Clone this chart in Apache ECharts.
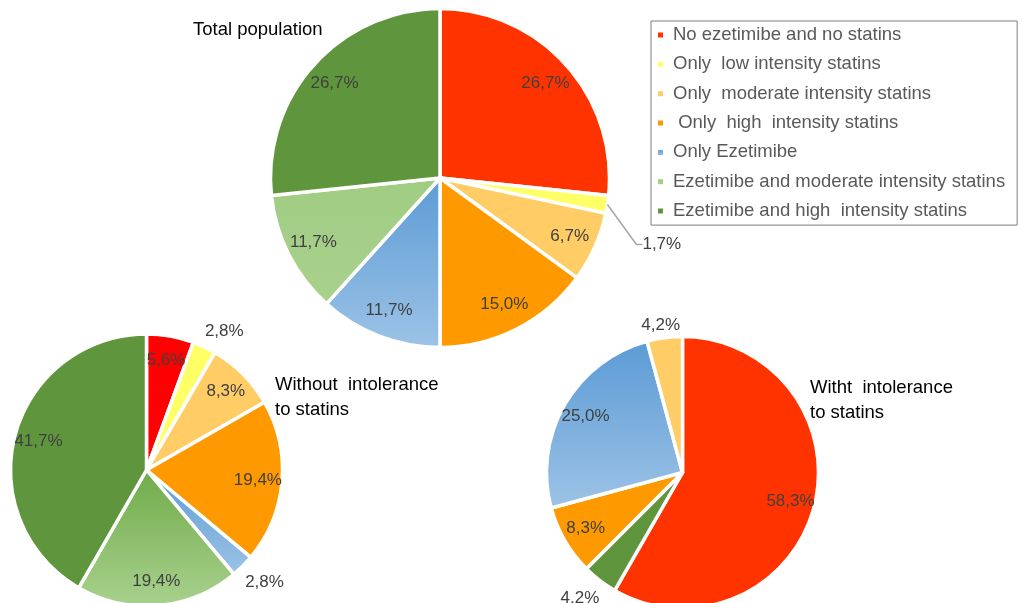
<!DOCTYPE html>
<html><head><meta charset="utf-8">
<script src="https://cdn.jsdelivr.net/npm/echarts@6/dist/echarts.min.js"></script>
<style>html,body{margin:0;padding:0;background:#fff}#c{width:1022px;height:603px}</style>
</head><body><div id="c"></div>
<script>
// ---- data ----
const categories = [
  'No ezetimibe and no statins',
  'Only  low intensity statins',
  'Only  moderate intensity statins',
  ' Only  high  intensity statins',
  'Only Ezetimibe',
  'Ezetimibe and moderate intensity statins',
  'Ezetimibe and high  intensity statins'
];
const totalValues = [26.7, 1.7, 6.7, 15.0, 11.7, 11.7, 26.7];
const withoutValues = [5.6, 2.8, 8.3, 19.4, 2.8, 19.4, 41.7];
const withCategoryOrder = [0, 6, 3, 4, 2];
const withValues = [58.3, 4.2, 8.3, 25.0, 4.2];
const titleTexts = ['Total population', 'Without  intolerance\nto statins', 'Witht  intolerance\nto statins'];

// ---- style ----
const FONT = '"Liberation Sans", Arial, Helvetica, sans-serif';
function grad(c1, c2) {
  return new echarts.graphic.LinearGradient(0, 0, 0, 1, [{offset: 0, color: c1}, {offset: 1, color: c2}]);
}
const baseColors = ['#ff3300', '#ffff66', '#ffcc66', '#ff9900',
  grad('#5b9bd5', '#9dc3e6'), grad('#a0cc82', '#a9d18e'), '#5f953c'];
const withoutColors = ['#ff0000', '#ffff66', '#ffcc66', '#ff9900',
  grad('#5b9bd5', '#9dc3e6'), grad('#6fab48', '#a9d18e'), '#5f953c'];

const pies = [
  {center: [440, 178], r: 169.5, labelR0: 0.64, names: categories, values: totalValues,
   colors: baseColors, nudges: {1: [24, 40]}, lineIdx: 1},
  {center: [146.5, 470], r: 136, labelR0: 0.6, names: categories, values: withoutValues,
   colors: withoutColors, nudges: {1: [-4.5, -16], 4: [-2.5, 16]}, lineIdx: -1},
  {center: [682.5, 472.5], r: 136, labelR0: 0.6,
   names: withCategoryOrder.map(i => categories[i]), values: withValues,
   colors: withCategoryOrder.map(i => baseColors[i]), nudges: {1: [4.5, 17.5], 4: [20.5, -12]}, lineIdx: -1}
];

function fmt(p) { return p.value.toFixed(1).replace('.', ',') + '%'; }

const series = [];
pies.forEach(function (pie) {
  series.push({
    type: 'pie', center: pie.center, radius: [0, pie.r], startAngle: 90, clockwise: true,
    animation: false, avoidLabelOverlap: false, emphasis: {disabled: true},
    label: {show: false}, labelLine: {show: false},
    itemStyle: {borderColor: '#ffffff', borderWidth: 3.5},
    data: pie.values.map((v, i) => ({name: pie.names[i], value: v, itemStyle: {color: pie.colors[i]}}))
  });
});
pies.forEach(function (pie) {
  series.push({
    type: 'pie', center: pie.center, radius: [pie.r * pie.labelR0, pie.r], startAngle: 90, clockwise: true,
    animation: false, avoidLabelOverlap: false, silent: true, emphasis: {disabled: true}, z: 5,
    itemStyle: {color: 'rgba(0,0,0,0)', borderWidth: 0},
    label: {show: true, position: 'inside', formatter: fmt, fontSize: 17, color: '#404040', fontFamily: FONT},
    labelLine: {show: false},
    labelLayout: function (p) {
      const n = pie.nudges[p.dataIndex];
      if (!n) return {};
      return {x: p.labelRect.x + n[0], y: p.labelRect.y + n[1], align: 'left', verticalAlign: 'top'};
    },
    data: pie.values.map((v, i) => {
      const item = {name: pie.names[i], value: v};
      if (pie.nudges[i]) {
        const withLine = i === pie.lineIdx;
        item.label = {position: 'outside'};
        item.labelLine = {show: withLine, length: 0, length2: withLine ? 6 : 0,
          lineStyle: {color: '#a6a6a6', width: 1.5}};
      }
      return item;
    })
  });
});

const titleStyle = {fontSize: 18.5, fontWeight: 'normal', color: '#000', fontFamily: FONT, lineHeight: 25};
const option = {
  backgroundColor: '#ffffff',
  animation: false,
  title: [
    {text: titleTexts[0], left: 193, top: 17, padding: 0, textStyle: titleStyle},
    {text: titleTexts[1], left: 275, top: 372.5, padding: 0, textStyle: titleStyle},
    {text: titleTexts[2], left: 810, top: 375.5, padding: 0, textStyle: titleStyle}
  ],
  legend: {
    data: categories, orient: 'vertical', left: 651, top: 21,
    icon: 'rect', itemWidth: 7, itemHeight: 7, itemGap: 9.35,
    padding: [4, 12, 4, 5], borderColor: '#7f7f7f', borderWidth: 1, borderRadius: 0,
    selectedMode: false,
    textStyle: {fontSize: 18.5, color: '#595959', fontFamily: FONT, lineHeight: 20, padding: [0, 0, 0, 4]}
  },
  series: series
};
echarts.init(document.getElementById('c')).setOption(option);
</script>
</body></html>
